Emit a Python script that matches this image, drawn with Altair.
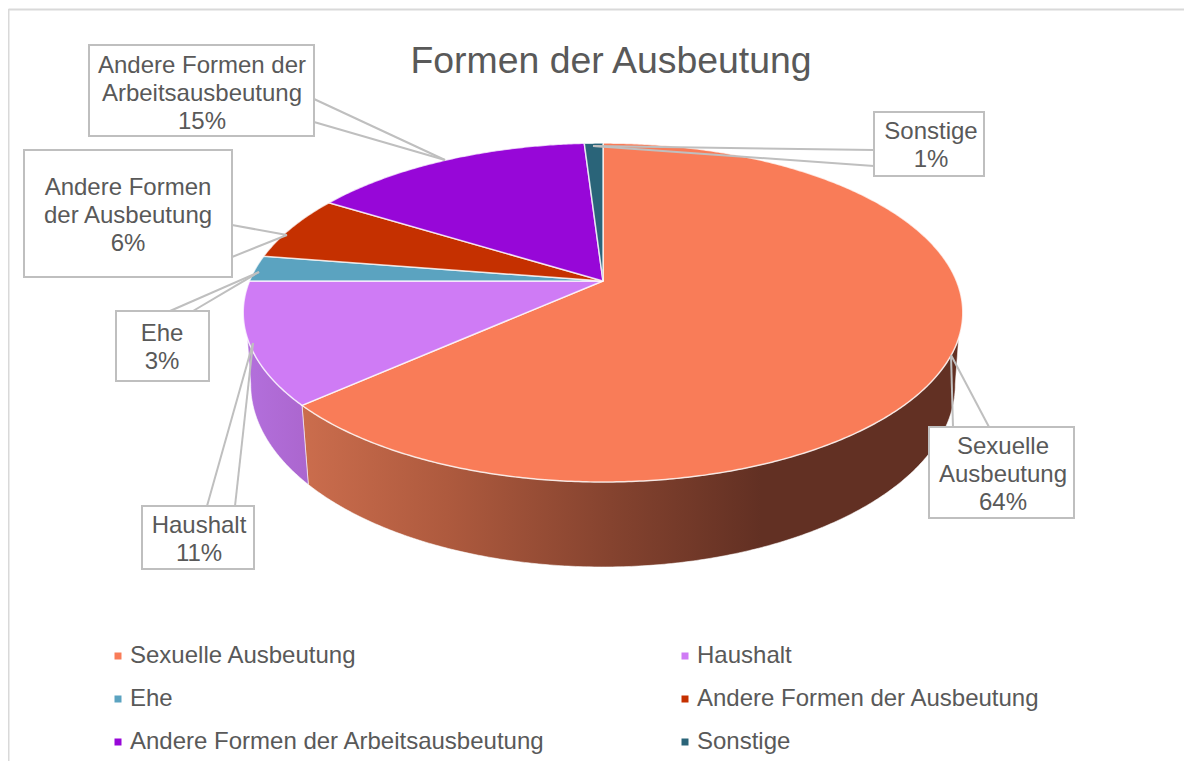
import math
import altair as alt

# ---- chart data -------------------------------------------------------
categories = ["Sexuelle Ausbeutung", "Haushalt", "Ehe",
              "Andere Formen der Ausbeutung",
              "Andere Formen der Arbeitsausbeutung", "Sonstige"]
shares = [63.4, 11.6, 2.5, 6.3, 15.2, 1.0]
percent_labels = ["64%", "11%", "3%", "6%", "15%", "1%"]  # as printed in the callouts
colors = ["#F97C58", "#CF7BF5", "#5BA3C0", "#C53000", "#9707D8", "#2A6479"]
wrapped = [["Sexuelle", "Ausbeutung"], ["Haushalt"], ["Ehe"],
           ["Andere Formen", "der Ausbeutung"],
           ["Andere Formen der", "Arbeitsausbeutung"], ["Sonstige"]]
title_text = "Formen der Ausbeutung"

# ---- layout (page pixels) ---------------------------------------------
W, H = 1176, 753
FONT, GREY = "Liberation Sans", "#595959"
CX, AY, A, B, K = 603.0, 281.0, 163.6, 353.5, -0.186   # perspective of the top disc
TOPC, TOPR, TOPH = 312.0, 359.5, 170.0                 # top ellipse
BOTC, BOTR, BOTH = 384.0, 352.0, 183.0                 # bottom rim ellipse

boxes = [(929, 1074, 427, 518), (142, 254, 506, 569), (116, 209, 311, 381),
         (24, 232, 150, 277), (89, 314, 45, 136), (874, 984, 112, 176)]
label_x = [1003, 199, 162, 128, 202, 931]
label_first_baseline = [454, 533, 341, 195, 73, 139]
line_gap = 28
wedges = [((953, 427), (989, 427), (951, 355)),
          ((207, 506), (235, 506), (253, 343)),
          ((170, 311), (193, 311), (259, 272)),
          ((232, 225), (232, 257), (287, 235)),
          ((314, 99), (314, 122), (445, 160)),
          ((874, 150), (874, 166), (593, 146))]


def top_pt(deg):
    t = math.radians(deg)
    v = -math.cos(t)
    d = 1 + K * v
    return (CX + B * math.sin(t) / d, AY + A * v / d)


def bottom_pt(p):
    nx, ny = (p[0] - CX) / TOPR, (p[1] - TOPC) / TOPH
    return (CX + BOTR * nx, BOTC + BOTH * ny)


def arc(a0, a1):
    n = max(2, int(abs(a1 - a0) * 2))
    return [top_pt(a0 + (a1 - a0) * i / n) for i in range(n + 1)]


def feat(ring, cat):
    ring = [list(p) for p in ring]
    ring.append(ring[0])
    return {"type": "Feature", "properties": {"cat": cat},
            "geometry": {"type": "Polygon", "coordinates": [ring]}}


def band(a0, a1, cat):
    pts = arc(a0, a1)
    ny = lambda p: (p[1] - TOPC) / TOPH
    top = [p for p in pts if ny(p) >= 0.15]
    bot = [bottom_pt(p) for p in pts if ny(p) >= 0.0]
    return feat(top + bot[::-1], cat)


cum = [0.0]
for s in shares:
    cum.append(cum[-1] + s * 3.6)

top_feats = [feat([(CX, AY)] + arc(cum[i], cum[i + 1]), c)
             for i, c in enumerate(categories)]

proj = dict(type="identity", scale=1, translate=[-8, -8])


def grad(stops):
    return alt.LinearGradient(gradient="linear", x1=0, x2=1, y1=0, y2=0,
                              stops=[alt.GradientStop(offset=o, color=c) for o, c in stops])


side_style = dict(stroke="#ffffff", strokeOpacity=0.55, strokeWidth=1)
side_a = alt.Chart(alt.Data(values=[band(cum[0], cum[1], categories[0])])).mark_geoshape(
    fill=grad([(0, "#CB6D4D"), (0.22, "#AE5A3E"), (0.47, "#85432F"),
               (0.70, "#623023"), (1, "#623023")]), **side_style).project(**proj)
side_b = alt.Chart(alt.Data(values=[band(cum[1], cum[2], categories[1])])).mark_geoshape(
    fill=grad([(0, "#B36FDC"), (1, "#AB66CE")]), **side_style).project(**proj)

top = alt.Chart(alt.Data(values=top_feats)).mark_geoshape(
    stroke="#ffffff", strokeOpacity=0.75, strokeWidth=1.5).encode(
    color=alt.Color("properties.cat:N",
                    scale=alt.Scale(domain=categories, range=colors),
                    sort=categories,
                    legend=alt.Legend(title=None, orient="none", direction="horizontal",
                                      legendX=98, legendY=636,
                                      columns=2, columnPadding=128, rowPadding=19,
                                      symbolType="square", symbolSize=49,
                                      symbolStrokeWidth=0, labelOffset=0,
                                      labelFont=FONT, labelFontSize=24, labelColor=GREY,
                                      labelLimit=500))
).project(**proj)

x_enc = lambda f: alt.X(f, type="quantitative", axis=None,
                        scale=alt.Scale(domain=[8, 8 + W], nice=False, zero=False))
y_enc = lambda f: alt.Y(f, type="quantitative", axis=None,
                        scale=alt.Scale(domain=[8 + H, 8], nice=False, zero=False))

frame = alt.Chart(alt.Data(values=[
    {"x": 8.5, "x2": 8 + W, "y": 9.5, "y2": 9.5},
    {"x": 8.5, "x2": 8.5, "y": 9, "y2": 8 + H}])).mark_rule(
    color="#D9D9D9", strokeWidth=2).encode(
    x=x_enc("x"), y=y_enc("y"), x2="x2:Q", y2="y2:Q")

wedge_rows = []
for p, q, tip in wedges:
    wedge_rows += [{"x": p[0], "y": p[1], "x2": tip[0], "y2": tip[1]},
                   {"x": q[0], "y": q[1], "x2": tip[0], "y2": tip[1]}]
leaders = alt.Chart(alt.Data(values=wedge_rows)).mark_rule(
    color="#BFBFBF", strokeWidth=2).encode(
    x=x_enc("x"), y=y_enc("y"), x2="x2:Q", y2="y2:Q")

box_rows = [{"x": b[0], "x2": b[1], "y": b[2], "y2": b[3]} for b in boxes]
rects = alt.Chart(alt.Data(values=box_rows)).mark_rect(
    fill="#ffffff", stroke="#BFBFBF", strokeWidth=2).encode(
    x=x_enc("x"), y=y_enc("y"), x2="x2:Q", y2="y2:Q")

text_rows = []
for i, lines in enumerate(wrapped):
    full = lines + [percent_labels[i]]
    for j, t in enumerate(full):
        text_rows.append({"x": label_x[i], "y": label_first_baseline[i] + j * line_gap, "t": t})
labels = alt.Chart(alt.Data(values=text_rows)).mark_text(
    font=FONT, fontSize=24, color=GREY, align="center", baseline="alphabetic").encode(
    x=x_enc("x"), y=y_enc("y"), text="t:N")

chart = alt.layer(frame, side_a, side_b, top, leaders, rects, labels).properties(
    width=W, height=H, padding=0, background="#ffffff",
    autosize=alt.AutoSizeParams(type="none"),
    title=alt.TitleParams(title_text, font=FONT, fontSize=37.4, fontWeight="normal",
                          color=GREY, anchor="middle", frame="group", baseline="alphabetic",
                          dx=15, dy=102, offset=0)
).configure_view(stroke=None)

chart.save("out.html", embed_options={"renderer": "svg", "actions": False})
